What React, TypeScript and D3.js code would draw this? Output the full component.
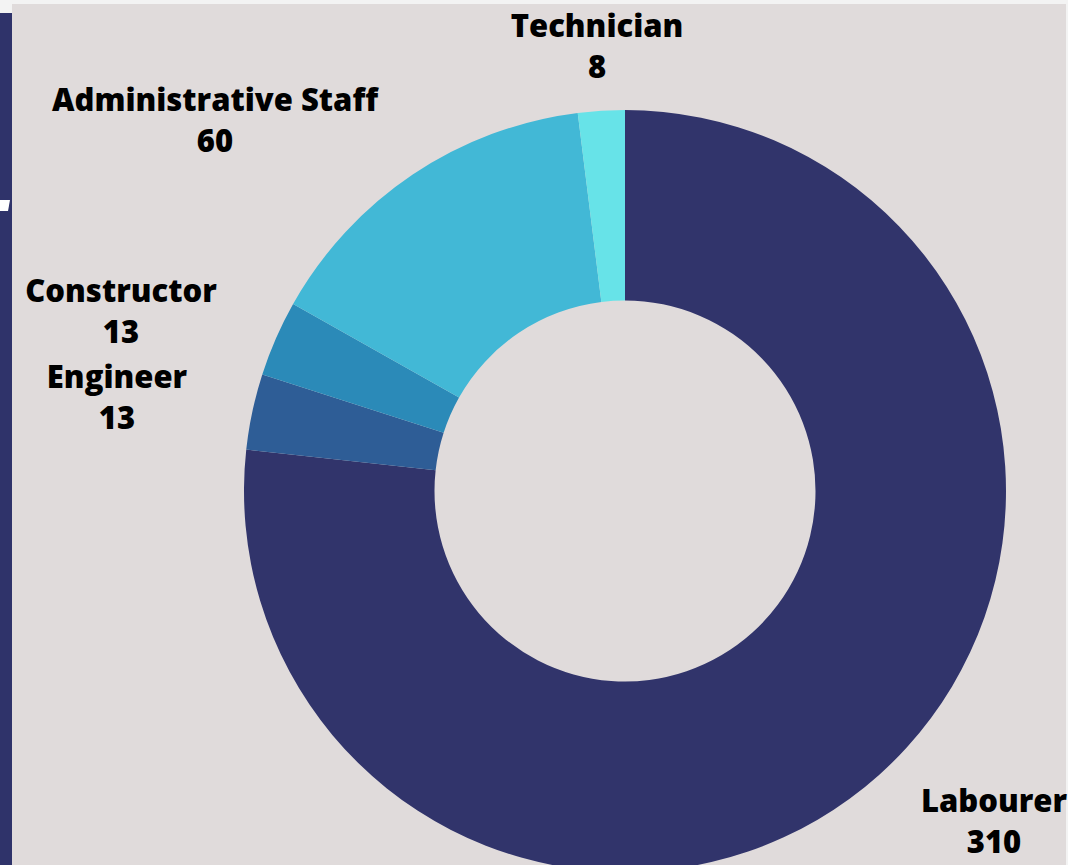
import React from "react";
import * as d3 from "d3";

const categories = ["Labourer", "Engineer", "Constructor", "Administrative Staff", "Technician"];
const values = [310, 13, 13, 60, 8];
const colors = ["#31346b", "#2e5d96", "#2b8ab8", "#42b8d6", "#67e3e8"];
// label center positions (layout, in px)
const labelPos: [number, number][] = [
  [994, 812],
  [117, 388],
  [121, 302],
  [215, 111],
  [597, 37],
];

const W = 1068;
const H = 865;

export default function App() {
  const cx = 625, cy = 491, outerR = 381, innerR = 190.5;
  const data = categories.map((c, i) => ({ c, v: values[i], col: colors[i], pos: labelPos[i] }));
  const pie = d3.pie<any>().value((d) => d.v).sort(null).startAngle(0).endAngle(2 * Math.PI);
  const arc = d3.arc<any>().innerRadius(innerR).outerRadius(outerR);
  const arcs = pie(data);
  return (
    <div style={{ position: "absolute", left: 0, top: 0 }}>
      <svg width={W} height={H} style={{ display: "block" }}>
        <rect x={0} y={0} width={W} height={H} fill="#f3f3f3" />
        <rect x={12} y={4} width={1054} height={H} fill="#e0dbdb" />
        <rect x={0} y={13} width={12} height={H} fill="#2f336a" />
        <polygon points="0,200 10,200 8,211 0,211" fill="#ffffff" />
        <g transform={`translate(${cx},${cy})`}>
          {arcs.map((a, i) => (
            <path key={i} d={arc(a) as string} fill={a.data.col} />
          ))}
        </g>
        {data.map((d, i) => (
          <text
            key={i}
            x={d.pos[0]}
            y={d.pos[1]}
            textAnchor="middle"
            fontFamily="'Open Sans', sans-serif"
            fontWeight={800}
            fontSize={31}
            fill="#000"
          >
            <tspan x={d.pos[0]}>{d.c}</tspan>
            <tspan x={d.pos[0]} dy={41}>{d.v}</tspan>
          </text>
        ))}
      </svg>
    </div>
  );
}
